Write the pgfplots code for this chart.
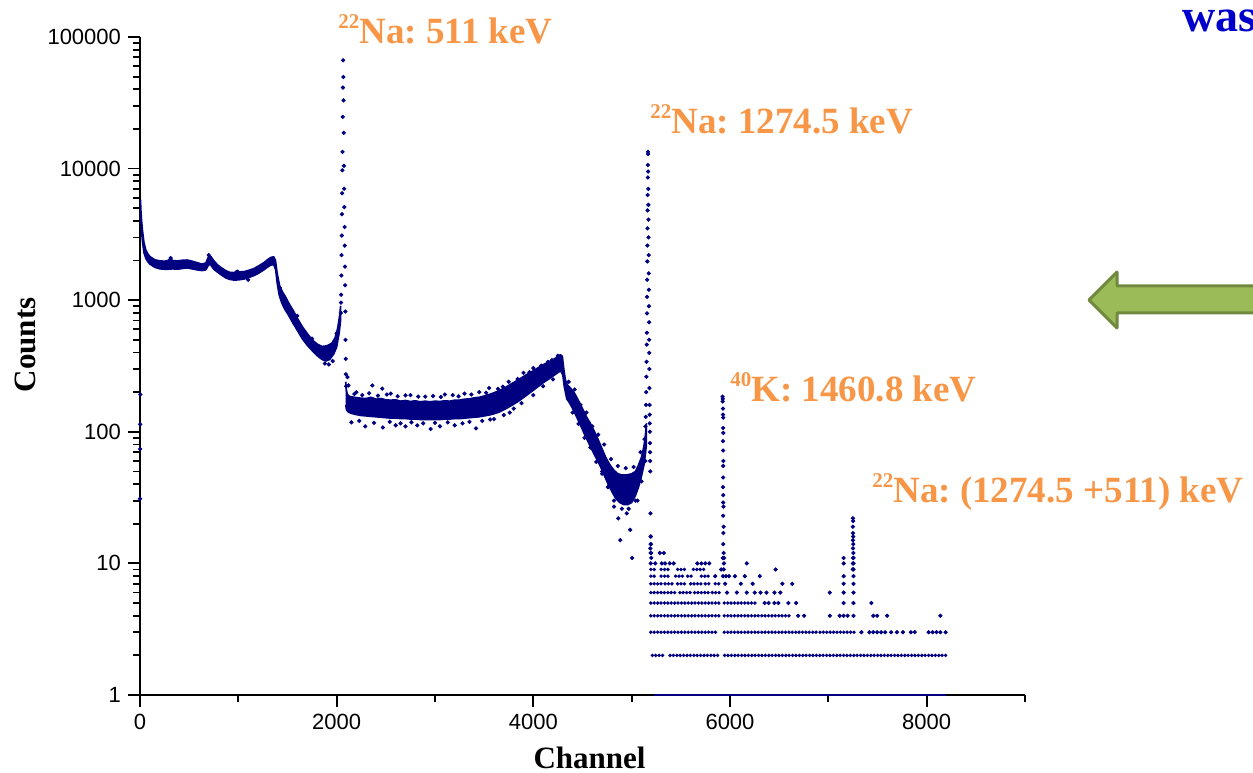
\documentclass[border=0pt]{standalone}
\usepackage{pgfplots}
\pgfplotsset{compat=1.18}
\usepackage{fontspec}
\setmainfont{Liberation Serif}
\newfontfamily\arial{Liberation Sans}
\definecolor{navyd}{RGB}{0,0,128}
\definecolor{annor}{RGB}{247,150,70}
\definecolor{wasblue}{RGB}{0,0,204}
\definecolor{arrfill}{RGB}{155,187,89}
\definecolor{arrline}{RGB}{113,137,63}
\newcommand{\iso}[1]{\raisebox{7.5pt}{\fontsize{10.5}{10.5}\selectfont #1}}
\frenchspacing
\begin{document}
\begin{tikzpicture}
\useasboundingbox (0,0) rectangle (626.5pt,386pt);
\begin{axis}[
  at={(70pt,38.5pt)}, anchor=south west,
  scale only axis, width=442.5pt, height=329pt,
  xmin=0, xmax=9000, ymode=log, ymin=1, ymax=100000,
  axis x line*=bottom, axis y line*=left,
  xtick={0,2000,4000,6000,8000}, xticklabels={0,2000,4000,6000,8000},
  minor xtick={1000,3000,5000,7000,9000},
  ytick={1,10,100,1000,10000,100000}, yticklabels={1,10,100,1000,10000,100000},
  minor ytick={2,3,4,5,6,7,8,9,20,30,40,50,60,70,80,90,200,300,400,500,600,700,800,900,2000,3000,4000,5000,6000,7000,8000,9000,20000,30000,40000,50000,60000,70000,80000,90000},
  tick align=outside, major tick length=6pt, minor tick length=3.5pt,
  every tick/.style={black, line width=0.9pt},
  axis line style={black, line width=1pt},
  ticklabel style={font=\arial\fontsize{11}{11}\selectfont},
  xlabel={Channel}, ylabel={Counts},
  xlabel style={at={(axis description cs:0.508,-0.111)}, anchor=base, font=\bfseries\fontsize{15.5}{15.5}\selectfont},
  ylabel style={at={(axis description cs:-0.129,0.532)}, anchor=center, font=\bfseries\fontsize{15.5}{15.5}\selectfont},
  clip=false,
]
% continuum band 0-2040
\addplot[fill=navyd, draw=navyd, line width=0.8pt, line join=round, forget plot] coordinates {
(5,5800) (10,4700) (15,4100) (25,3400) (40,2750) (60,2400) (80,2250) (100,2150) (150,2030) (200,1990) (250,1980) (290,2010) (310,2090) (330,2000) (380,1990) (430,2010) (480,2020) (530,1980) (580,1930) (630,1880) (670,1920) (700,2170) (720,2150) (750,2000) (790,1850) (830,1760) (870,1680) (910,1630) (960,1620) (990,1690) (1010,1640) (1060,1650) (1110,1690) (1160,1740) (1210,1830) (1260,1930) (1300,2040) (1330,2110) (1360,2140) (1378,2000) (1395,1600) (1420,1290) (1450,1150) (1480,1060) (1520,930) (1560,830) (1600,730) (1650,630) (1700,560) (1750,500) (1800,465) (1850,445) (1900,450) (1950,470) (1985,520) (2010,610) (2030,760) (2040,900)
(2040,700) (2025,560) (2000,440) (1970,390) (1930,355) (1890,345) (1850,355) (1800,380) (1750,415) (1700,455) (1650,510) (1600,590) (1550,680) (1510,770) (1470,860) (1440,960) (1415,1100) (1395,1350) (1380,1700) (1360,1860) (1330,1850) (1300,1790) (1260,1700) (1210,1610) (1160,1540) (1110,1490) (1060,1450) (1010,1430) (960,1420) (910,1440) (870,1480) (830,1550) (790,1630) (750,1720) (720,1850) (700,1870) (670,1700) (630,1680) (580,1700) (530,1730) (480,1760) (430,1740) (380,1720) (330,1730) (290,1720) (250,1720) (200,1730) (150,1780) (100,1880) (80,1960) (60,2070) (40,2300) (25,2800) (15,3400) (10,3900) (5,4800)
};
% continuum band 2090-5150
\addplot[fill=navyd, draw=navyd, line width=0.8pt, line join=round, forget plot] coordinates {
(2092,240) (2100,205) (2110,192) (2130,186) (2160,184) (2200,182) (2250,180) (2300,179) (2350,183) (2400,177) (2450,179) (2500,175) (2550,174) (2600,175) (2650,171) (2700,173) (2750,170) (2800,172) (2850,169) (2900,171) (2950,169) (3000,171) (3050,170) (3100,172) (3150,171) (3200,174) (3250,174) (3300,177) (3350,178) (3400,181) (3450,183) (3500,187) (3550,192) (3600,198) (3650,205) (3700,214) (3750,225) (3800,237) (3850,249) (3900,263) (3950,277) (4000,291) (4050,307) (4100,323) (4150,338) (4200,353) (4240,369) (4275,385) (4295,375) (4310,300) (4325,250) (4345,228) (4380,214) (4420,196) (4460,172) (4500,150) (4540,130) (4580,116) (4620,101) (4660,87) (4700,74) (4740,63) (4780,56) (4820,51) (4860,48) (4900,47) (4950,47) (5000,48) (5040,50) (5070,56) (5100,64) (5125,78) (5140,95) (5150,115)
(5150,80) (5140,68) (5125,56) (5100,46) (5070,38) (5040,33) (5000,29) (4960,28) (4920,28) (4880,29) (4840,31) (4800,35) (4760,40) (4720,47) (4680,55) (4640,63) (4600,72) (4560,83) (4520,96) (4480,112) (4440,130) (4400,150) (4370,165) (4340,178) (4315,220) (4300,270) (4280,290) (4250,282) (4200,265) (4150,250) (4100,236) (4050,221) (4000,207) (3950,194) (3900,182) (3850,171) (3800,162) (3750,154) (3700,147) (3650,141) (3600,137) (3550,134) (3500,132) (3450,130) (3400,129) (3350,128) (3300,127) (3250,126) (3200,126) (3150,125) (3100,125) (3050,124) (3000,124) (2950,124) (2900,124) (2850,124) (2800,125) (2750,125) (2700,126) (2650,126) (2600,127) (2550,127) (2500,128) (2450,129) (2400,130) (2350,131) (2300,132) (2250,133) (2200,135) (2150,138) (2120,141) (2100,147) (2092,160)
};
% count 1 row
\addplot[navyd, line width=1.4pt, forget plot] coordinates {(5226,1) (8193,1)};
% dense runs of integer counts
\addplot[navyd, line width=1.9pt, line cap=round, dash pattern=on 0pt off 1.7pt, unbounded coords=jump, forget plot] coordinates {
(5210,2) (5340,2) (5341,nan) (5390,2) (5905,2) (5906,nan) (5945,2) (8195,2) (8196,nan)
(5195,3) (5870,3) (5871,nan) (5942,3) (6894,3) (6895,nan) (6915,3) (7276,3) (7277,nan)
(5195,4) (5910,4) (5911,nan) (5942,4) (6633,4) (6634,nan)
(5195,5) (5910,5) (5911,nan) (5942,5) (6271,5) (6272,nan)
(5195,6) (5467,6) (5468,nan) (5490,6) (5600,6) (5601,nan) (5640,6) (5780,6) (5781,nan) (5820,6) (5910,6) (5911,nan)
(5195,7) (5300,7) (5301,nan) (5340,7) (5427,7) (5428,nan) (5467,7) (5560,7) (5561,nan) (5600,7) (5709,7) (5710,nan) (5749,7) (5800,7) (5801,nan) (5850,7) (5910,7) (5911,nan)
(5195,8) (5260,8) (5261,nan) (5300,8) (5387,8) (5388,nan) (5447,8) (5530,8) (5531,nan) (5570,8) (5628,8) (5629,nan) (5709,8) (5789,8) (5790,nan)
(5195,9) (5250,9) (5251,nan) (5300,9) (5387,9) (5388,nan) (5467,9) (5548,9) (5549,nan) (5628,9) (5749,9)
};
% single points
\addplot[only marks, mark=*, mark size=0.85pt, navyd, forget plot] coordinates {
(0,31) (1,74) (2,114) (3,192)
(2042,800) (2044,960) (2046,1100) (2048,1540) (2050,2200) (2052,3100) (2054,4500) (2056,6500) (2058,9700) (2060,13400) (2062,24700) (2064,41300) (2066,66500) (2068,49700) (2070,33000) (2072,18700) (2074,10500) (2076,7040) (2078,5100) (2080,3600) (2082,2600) (2084,1800) (2086,1300) (2088,820) (2090,500) (2092,358) (2094,274) (2096,222)
(312,2090) (700,2200) (1100,1430) (1420,1250) (1600,760) (1750,510) (1880,330) (1920,325) (1960,345) (2000,560)
(2110,260) (2120,225) (2363,225) (2464,213) (2200,200) (2550,195) (2750,190) (2900,185) (3100,192) (3300,195) (3450,200) (3550,215) (3750,240) (3900,280) (4000,305) (4150,340) (4250,378)
(2180,194) (2260,190) (2330,196) (2420,188) (2510,192) (2620,186) (2700,189) (2830,185) (2980,187) (3060,184) (3180,190) (3240,186) (3370,192) (3520,198) (3640,212) (3690,220) (3840,252) (3960,284) (4080,318) (4190,350)
(2150,118) (2290,110) (2470,108) (2600,112) (2700,110) (2820,112) (2955,105) (3050,110) (3200,112) (3417,106) (3600,125) (3800,150) (4000,190)
(2230,121) (2380,117) (2540,119) (2650,116) (2760,118) (2880,116) (3000,117) (3130,118) (3280,116) (3350,119) (3480,121) (3560,124) (3700,134) (3760,140) (3880,165) (4100,222) (4200,250)
(4360,240) (4420,210) (4480,160) (4540,140) (4600,110) (4660,95) (4720,80) (4790,62) (4860,55) (4940,53) (5020,54) (5090,70) (5130,88)
(4400,140) (4460,115) (4520,90) (4580,76) (4640,59) (4700,50) (4760,38) (4820,30) (4900,26) (4970,26) (5040,30) (5100,42) (5140,60)
(4864,22) (4884,15) (4985,18) (5005,11) (4950,24) (4820,27) (5060,30) (4760,38) (4700,48)
(5140,110) (5143,130) (5146,160) (5148,200) (5150,262) (5152,340) (5154,460) (5155,565) (5156,795) (5157,1060) (5158,1430) (5159,1970) (5160,2600) (5161,3520) (5162,4810) (5163,6300) (5164,8560) (5165,10640) (5166,13400) (5167,12900) (5168,9500) (5169,7000) (5170,5300) (5171,4100) (5172,3000) (5173,2200) (5174,1600) (5175,1200) (5176,900) (5177,680) (5178,500) (5179,398) (5180,300) (5181,215) (5182,160) (5183,135) (5184,116) (5185,100) (5186,82) (5187,70) (5188,60) (5189,50) (5191,24) (5193,16) (5195,14) (5197,12) (5199,11)
(5925,185) (5927,178) (5926,170) (5928,150) (5929,135) (5931,128) (5930,107) (5932,98) (5929,85) (5930,72) (5933,60) (5931,55) (5930,45) (5929,38) (5932,33) (5931,29) (5934,27) (5930,23) (5936,19) (5933,17) (5931,14) (5935,12) (5928,11) (5940,11) (5938,10) (5936,9)
(7250,22) (7252,21) (7249,19) (7251,17) (7253,16) (7250,15) (7254,14) (7251,13) (7255,12) (7252,11) (7250,10) (7248,9)
(7337,3) (7417,3) (7457,3) (7497,3) (7537,3) (7578,3) (7638,3) (7698,3) (7759,3) (7839,3) (7879,3) (8020,3) (8060,3) (8100,3) (8140,3) (8193,3)
(6693,4) (6754,4) (7015,4) (7116,4) (7156,4) (7196,4) (7256,4) (7457,4) (7497,4) (7598,4) (8140,4)
(6352,5) (6392,5) (6452,5) (6492,5) (6593,5) (6673,5) (7156,5) (7256,5) (7437,5)
(5970,6) (6070,6) (6171,6) (6251,6) (6311,6) (6371,6) (6452,6) (6512,6) (7015,6) (7156,6) (7256,6)
(5950,7) (6110,7) (6231,7) (6533,7) (6633,7) (7156,7) (7256,7)
(5849,8) (5930,8) (5960,8) (5990,8) (6050,8) (6151,8) (6303,8) (7156,8) (7256,8)
(5910,9) (6464,9) (7256,9)
(5194,10) (5240,10) (5307,10) (5340,10) (5387,10) (5427,10) (5668,10) (5709,10) (5749,10) (5789,10) (6171,10) (7156,10) (7256,10)
(5930,11) (7156,11) (7256,11)
(5194,12) (5286,12) (5327,12) (5190,13) (5194,14) (5196,16)
};
\node[anchor=base west, inner sep=0pt, annor, font=\bfseries\fontsize{18.5}{18.5}\selectfont] at (axis description cs:0.2237,0.9894) {\iso{22}Na: 511 keV};
\node[anchor=base west, inner sep=0pt, annor, font=\bfseries\fontsize{18.5}{18.5}\selectfont] at (axis description cs:0.5763,0.8526) {\iso{22}Na: 1274.5 keV};
\node[anchor=base west, inner sep=0pt, annor, font=\bfseries\fontsize{18.5}{18.5}\selectfont] at (axis description cs:0.6667,0.4468) {\iso{40}K: 1460.8 keV};
\node[anchor=base west, inner sep=0pt, annor, font=\bfseries\fontsize{18.5}{18.5}\selectfont] at (axis description cs:0.8271,0.2918) {\iso{22}Na: (1274.5 +511) keV};
\node[anchor=base west, inner sep=0pt, wasblue, font=\bfseries\fontsize{23}{23}\selectfont] at (axis description cs:1.1774,1.0091) {was};
\end{axis}
\draw[fill=arrfill, draw=arrline, line width=1.5pt, line join=round] (544.5pt,236pt) -- (558.5pt,250pt) -- (558.5pt,243pt) -- (640pt,243pt) -- (640pt,229.5pt) -- (558.5pt,229.5pt) -- (558.5pt,222pt) -- cycle;
\end{tikzpicture}
\end{document}
